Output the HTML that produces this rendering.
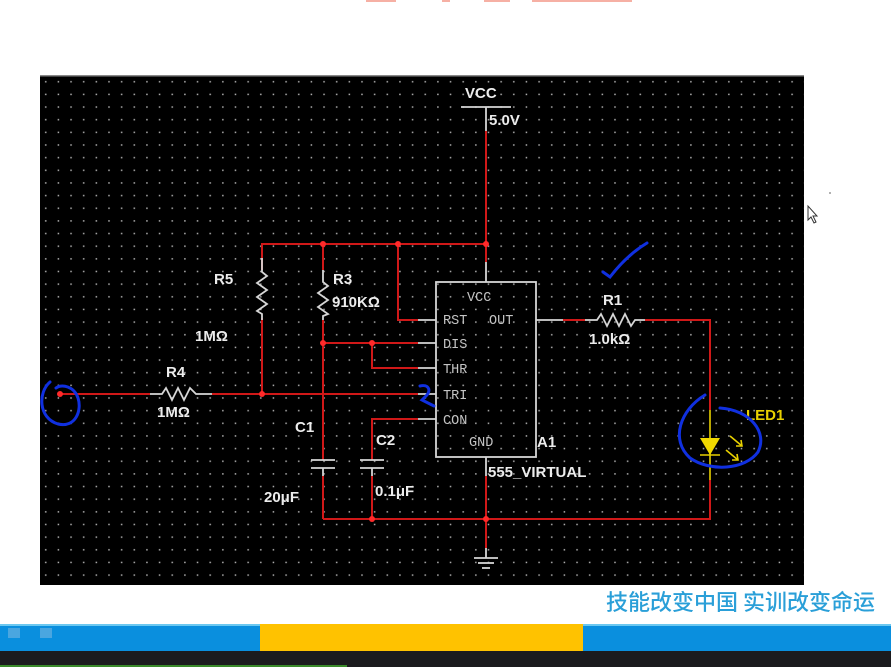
<!DOCTYPE html>
<html><head><meta charset="utf-8">
<style>
html,body{margin:0;padding:0;background:#fff;}
body{width:891px;height:667px;overflow:hidden;position:relative;font-family:"Liberation Sans","Noto Sans CJK SC",sans-serif;}
svg{position:absolute;left:0;top:0;}
</style></head><body>
<svg width="891" height="667" viewBox="0 0 891 667" xmlns="http://www.w3.org/2000/svg">
<defs>
<pattern id="dots" x="40" y="76" width="12.65" height="12.65" patternUnits="userSpaceOnUse">
<rect x="5" y="5" width="1.5" height="1.5" fill="#b0b0b0"/>
</pattern>
</defs>
<g fill="#f6b0a4">
<rect x="366" y="0" width="30" height="2"/><rect x="442" y="0" width="8" height="2"/><rect x="484" y="0" width="26" height="2"/><rect x="532" y="0" width="100" height="2"/>
</g>
<rect x="40" y="75" width="764" height="510" fill="#000"/>
<rect x="40" y="75" width="764" height="510" fill="url(#dots)"/>
<rect x="40" y="75" width="764" height="1.5" fill="#888"/>

<g stroke="#d01818" stroke-width="2" fill="none">
<line x1="486" y1="131" x2="486" y2="244"/>
<polyline points="262,270 262,244 486,244 486,262"/>
<line x1="323" y1="244" x2="323" y2="270"/>
<polyline points="398,244 398,320 418,320"/>
<line x1="262" y1="318" x2="262" y2="394"/>
<line x1="323" y1="320" x2="323" y2="460"/>
<line x1="323" y1="476" x2="323" y2="519"/>
<line x1="323" y1="343" x2="418" y2="343"/>
<polyline points="372,343 372,368 418,368"/>
<line x1="60" y1="394" x2="150" y2="394"/>
<line x1="212" y1="394" x2="418" y2="394"/>
<polyline points="418,419 372,419 372,460"/>
<line x1="372" y1="476" x2="372" y2="519"/>
<polyline points="323,519 710,519 710,480"/>
<line x1="486" y1="476" x2="486" y2="548"/>
<line x1="563" y1="320" x2="585" y2="320"/>
<polyline points="645,320 710,320 710,410"/>
</g>
<g fill="#ff2a2a">
<circle cx="323" cy="244" r="3"/><circle cx="398" cy="244" r="3"/><circle cx="486" cy="244" r="3"/>
<circle cx="323" cy="343" r="3"/><circle cx="372" cy="343" r="3"/><circle cx="262" cy="394" r="3"/>
<circle cx="372" cy="519" r="3"/><circle cx="486" cy="519" r="3"/><circle cx="60" cy="394" r="3"/>
</g>

<g stroke="#d6d6d6" stroke-width="1.8" fill="none">
<line x1="461" y1="107" x2="511" y2="107"/><line x1="486" y1="107" x2="486" y2="131"/>
<polyline points="262,258 262,272 267,276 257,283 267,290 257,297 267,304 257,311 262,314 262,320"/>
<polyline points="323,270 323,282 328,286 318,293 328,300 318,307 328,314 323,316 323,320"/>
<polyline points="150,394 162,394 166,388 172,400 178,388 184,400 190,388 196,394 212,394"/>
<polyline points="585,320 597,320 601,314 607,326 613,314 619,326 625,314 631,326 635,320 645,320"/>
<rect x="436" y="282" width="100" height="175"/>
<line x1="486" y1="262" x2="486" y2="282"/>
<line x1="418" y1="320" x2="436" y2="320"/><line x1="418" y1="343" x2="436" y2="343"/>
<line x1="418" y1="368" x2="436" y2="368"/><line x1="418" y1="394" x2="436" y2="394"/>
<line x1="418" y1="419" x2="436" y2="419"/>
<line x1="536" y1="320" x2="563" y2="320"/>
<line x1="486" y1="457" x2="486" y2="476"/>
<line x1="311" y1="460" x2="335" y2="460"/><line x1="311" y1="468" x2="335" y2="468"/>
<line x1="323" y1="468" x2="323" y2="476"/>
<line x1="360" y1="460" x2="384" y2="460"/><line x1="360" y1="468" x2="384" y2="468"/>
<line x1="372" y1="468" x2="372" y2="476"/>
<line x1="486" y1="548" x2="486" y2="558"/>
<line x1="474" y1="558" x2="498" y2="558"/><line x1="478" y1="563" x2="494" y2="563"/><line x1="482" y1="568" x2="490" y2="568"/>
</g>
<g stroke="#e8d000" stroke-width="1.6" fill="none">
<line x1="710" y1="410" x2="710" y2="480"/>
<line x1="700" y1="455" x2="720" y2="455"/>
<line x1="730" y1="436" x2="742" y2="446"/><polyline points="736,446 742,446 741,440"/>
<line x1="726" y1="450" x2="738" y2="460"/><polyline points="732,460 738,460 737,454"/>
</g>
<polygon points="700,438 720,438 710,455" fill="#f0d800"/>

<g font-family="Liberation Mono,monospace" font-size="13.5" fill="#c4c4c4">
<text x="467" y="301">VCC</text>
<text x="443" y="324">RST</text><text x="489" y="324">OUT</text>
<text x="443" y="348">DIS</text><text x="443" y="373">THR</text>
<text x="443" y="399">TRI</text><text x="443" y="424">CON</text>
<text x="469" y="446">GND</text>
</g>
<g font-family="Liberation Sans,sans-serif" font-size="15" font-weight="bold" fill="#ececec">
<text x="465" y="98">VCC</text><text x="489" y="125">5.0V</text>
<text x="214" y="284">R5</text><text x="195" y="341">1MΩ</text>
<text x="333" y="284">R3</text><text x="332" y="307">910KΩ</text>
<text x="166" y="377">R4</text><text x="157" y="417">1MΩ</text>
<text x="295" y="432">C1</text><text x="376" y="445">C2</text>
<text x="264" y="502">20μF</text><text x="375" y="496">0.1μF</text>
<text x="537" y="447">A1</text><text x="488" y="477">555_VIRTUAL</text>
<text x="603" y="305">R1</text><text x="589" y="344">1.0kΩ</text>
</g>
<text x="746" y="420" font-family="Liberation Sans,sans-serif" font-size="15" font-weight="bold" fill="#e8d000">LED1</text>

<g stroke="#1030e0" stroke-width="3" fill="none" stroke-linecap="round">
<path d="M50,382 C38,392 38,418 58,424 C76,428 82,410 78,398 C74,386 62,384 56,388"/>
<path d="M603,272 L610,277 C620,264 632,252 647,243"/>
<path d="M420,386 C428,384 432,390 426,396 L422,400 C426,402 430,404 434,406"/>
<path d="M705,395 C680,410 670,440 690,458 C710,472 745,470 758,452 C768,432 750,410 720,408"/>
</g>
<path d="M808,206 L808,220 L811,217 L814,223 L816,222 L813,216 L817,216 Z" fill="#fff" stroke="#333" stroke-width="1"/>
<circle cx="830" cy="193" r="1" fill="#999"/>

<text x="875" y="610" text-anchor="end" font-family="Noto Sans CJK SC,sans-serif" font-size="22" font-weight="500" fill="#2a9fd8">技能改变中国 实训改变命运</text>
<rect x="0" y="624" width="891" height="27" fill="#0a8fde"/>
<rect x="0" y="624" width="891" height="2" fill="#6cc8f0"/>
<rect x="260" y="624" width="323" height="27" fill="#ffc200"/>
<rect x="0" y="651" width="891" height="16" fill="#1b1b1e"/>
<rect x="0" y="665" width="347" height="2" fill="#3a8a2a"/>
<rect x="8" y="628" width="12" height="10" fill="#4aa6e0"/><rect x="40" y="628" width="12" height="10" fill="#4aa6e0"/>
</svg>
</body></html>
